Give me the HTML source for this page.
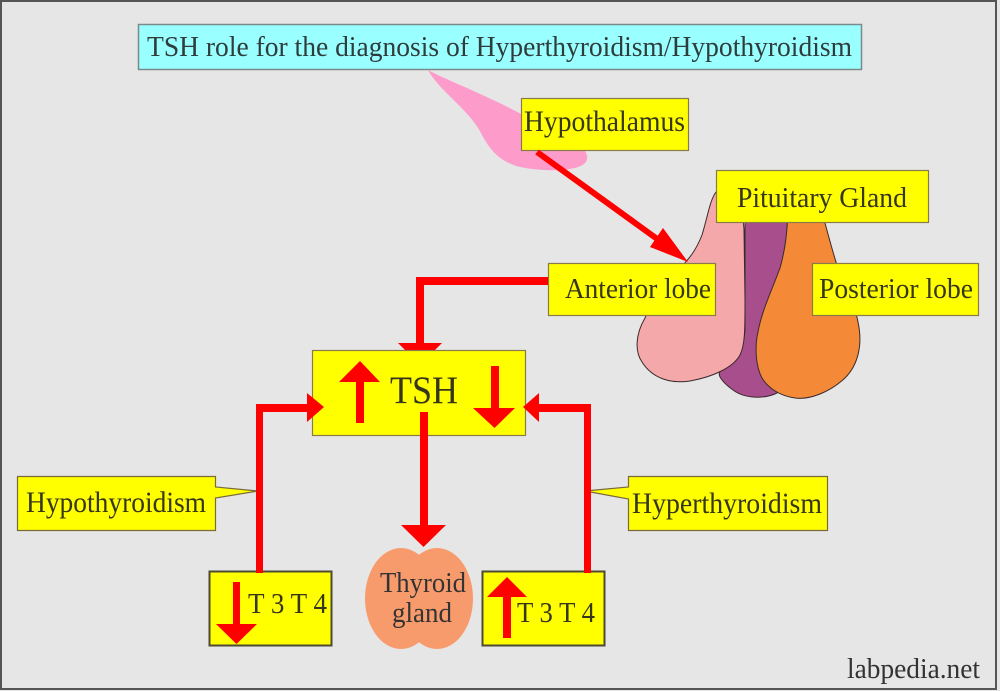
<!DOCTYPE html>
<html>
<head>
<meta charset="utf-8">
<style>
html,body{margin:0;padding:0;background:#e6e6e6;}
svg{display:block;}
text{font-family:"Liberation Serif","Times New Roman",serif;}
</style>
</head>
<body>
<svg width="1000" height="691" viewBox="0 0 1000 691" xmlns="http://www.w3.org/2000/svg" font-family="Liberation Serif, Times New Roman, serif">
  <rect x="0" y="0" width="1000" height="691" fill="#e6e6e6"/>
  <rect x="1" y="1" width="995" height="688" fill="none" stroke="#555" stroke-width="2"/>

  <!-- Title -->
  <rect x="138.5" y="24.5" width="723" height="45" fill="#99ffff" stroke="#7a8a8a" stroke-width="1.5"/>
  <text x="147" y="56" font-size="29" fill="#2f3c3c" textLength="705" lengthAdjust="spacingAndGlyphs">TSH role for the diagnosis of Hyperthyroidism/Hypothyroidism</text>

  <!-- Hypothalamus shape -->
  <path d="M428,70 C450,82 500,100 540,125 C575,140 592,150 586,162 C578,172 545,172 520,167 C500,162 490,150 482,135 C470,110 440,92 428,70 Z" fill="#fd9bcb"/>
  <rect x="521.5" y="98.5" width="167" height="52" fill="#ffff00" stroke="#8a7a4a" stroke-width="1.2"/>
  <text x="524" y="131" font-size="29.5" fill="#36361a" textLength="161" lengthAdjust="spacingAndGlyphs">Hypothalamus</text>

  <!-- Pituitary shapes -->
  <path d="M745,212 L787,212 C788,240 787,255 783,265 L775,330 L777,393 C765,399 745,399 733,390 C722,382 716,374 721,371 C736,360 744,345 745,330 Z" fill="#a84e8c" stroke="#3a2a2a" stroke-width="1"/>
  <path d="M716,192 C710,200 708,215 702,235 C696,250 690,258 680,268 C665,290 650,305 645,318 C635,335 635,352 642,362 C652,378 670,384 690,381 C712,377 733,368 740,355 C745,345 745,330 745,300 L744,230 C743,205 730,190 716,192 Z" fill="#f5a8aa" stroke="#3a2a2a" stroke-width="1"/>
  <path d="M788,212 L822,212 C827,230 832,250 837,265 C845,290 855,305 858,322 C863,345 858,365 845,378 C830,392 810,400 795,398 C780,396 768,388 762,378 C755,365 755,345 758,332 C762,310 772,290 780,268 C785,250 787,235 788,212 Z" fill="#f48a38" stroke="#3a2a2a" stroke-width="1"/>

  <rect x="716.5" y="170.5" width="212" height="52" fill="#ffff00" stroke="#8a7a4a" stroke-width="1.2"/>
  <text x="737" y="207" font-size="29" fill="#36361a" textLength="170" lengthAdjust="spacingAndGlyphs">Pituitary Gland</text>

  <rect x="548.5" y="263.5" width="167" height="52" fill="#ffff00" stroke="#8a7a4a" stroke-width="1.2"/>
  <text x="565" y="298" font-size="29" fill="#36361a" textLength="146" lengthAdjust="spacingAndGlyphs">Anterior lobe</text>

  <rect x="812.5" y="263.5" width="166" height="52" fill="#ffff00" stroke="#8a7a4a" stroke-width="1.2"/>
  <text x="819" y="298" font-size="29" fill="#36361a" textLength="154" lengthAdjust="spacingAndGlyphs">Posterior lobe</text>

  <!-- Arrow hypothalamus -> anterior lobe -->
  <line x1="537" y1="152" x2="660" y2="241" stroke="#ff0000" stroke-width="6"/>
  <polygon points="650,247 663,228 688,262" fill="#ff0000"/>

  <!-- Connector anterior lobe -> TSH -->
  <rect x="416" y="277" width="132" height="8" fill="#ff0000"/>
  <rect x="416" y="277" width="8" height="68" fill="#ff0000"/>
  <polygon points="398,343 442,343 420,365" fill="#ff0000"/>

  <!-- TSH box -->
  <rect x="312.5" y="350.5" width="213" height="85" fill="#ffff00" stroke="#8a7a4a" stroke-width="1.2"/>
  <text x="390" y="403" font-size="39" fill="#36361a" textLength="68" lengthAdjust="spacingAndGlyphs">TSH</text>
  <rect x="356" y="380" width="8" height="43" fill="#ff0000"/>
  <polygon points="339,382 380,382 360,361" fill="#ff0000"/>
  <rect x="491" y="366" width="8" height="44" fill="#ff0000"/>
  <polygon points="473,408 515,408 494.5,428" fill="#ff0000"/>

  <!-- Center line TSH -> thyroid -->
  <rect x="420" y="412" width="8" height="115" fill="#ff0000"/>
  <polygon points="401,525 446,525 423.5,547" fill="#ff0000"/>

  <!-- Thyroid gland -->
  <ellipse cx="401" cy="598.5" rx="36" ry="50.5" fill="#f89b6c"/>
  <ellipse cx="437" cy="598.5" rx="36" ry="50.5" fill="#f89b6c"/>
  <text x="380" y="592" font-size="28.5" fill="#333" textLength="86" lengthAdjust="spacingAndGlyphs">Thyroid</text>
  <text x="392" y="622" font-size="28.5" fill="#333" textLength="60" lengthAdjust="spacingAndGlyphs">gland</text>

  <!-- Hypothyroidism callout -->
  <path d="M17.5,476.5 H215.5 V487 L258,491 L215.5,498 V530.5 H17.5 Z" fill="#ffff00" stroke="#7a6a3a" stroke-width="1.2"/>
  <text x="26" y="512" font-size="29.5" fill="#36361a" textLength="180" lengthAdjust="spacingAndGlyphs">Hypothyroidism</text>

  <!-- Hyperthyroidism callout -->
  <path d="M827.5,476.5 V530.5 H628.5 V499 L585,491 L628.5,487 V476.5 Z" fill="#ffff00" stroke="#7a6a3a" stroke-width="1.2"/>
  <text x="632" y="513" font-size="29.5" fill="#36361a" textLength="190" lengthAdjust="spacingAndGlyphs">Hyperthyroidism</text>

  <!-- T3 T4 left -->
  <rect x="209.5" y="571.5" width="122" height="74" fill="#ffff00" stroke="#4d4a33" stroke-width="2"/>
  <rect x="233" y="582" width="7" height="43" fill="#ff0000"/>
  <polygon points="216,624 257,624 236.5,644" fill="#ff0000"/>
  <text x="248" y="613" font-size="29" fill="#36361a" textLength="79" lengthAdjust="spacingAndGlyphs">T 3 T 4</text>

  <!-- T3 T4 right -->
  <rect x="482.5" y="571.5" width="122" height="74" fill="#ffff00" stroke="#4d4a33" stroke-width="2"/>
  <rect x="503" y="595" width="8" height="43" fill="#ff0000"/>
  <polygon points="487,597 527,597 507,577" fill="#ff0000"/>
  <text x="517" y="622" font-size="29" fill="#36361a" textLength="78" lengthAdjust="spacingAndGlyphs">T 3 T 4</text>

  <!-- Left feedback -->
  <rect x="256" y="404" width="7" height="169" fill="#ff0000"/>
  <rect x="256" y="404" width="53" height="8" fill="#ff0000"/>
  <polygon points="307,393 307,422 324,407" fill="#ff0000"/>

  <!-- Right feedback -->
  <rect x="584" y="404" width="7" height="169" fill="#ff0000"/>
  <rect x="537" y="404" width="54" height="8" fill="#ff0000"/>
  <polygon points="539,393 539,422 523,407" fill="#ff0000"/>

  <!-- watermark -->
  <text x="847" y="678" font-size="28.5" fill="#333" textLength="133" lengthAdjust="spacingAndGlyphs">labpedia.net</text>
</svg>
</body>
</html>
